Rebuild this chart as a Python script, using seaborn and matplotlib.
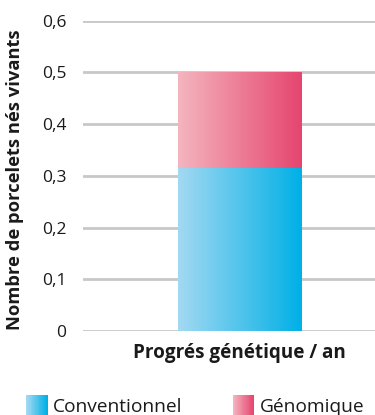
import numpy as np
import pandas as pd
import matplotlib
matplotlib.use("Agg")
import matplotlib.pyplot as plt
from matplotlib.colors import LinearSegmentedColormap
from matplotlib.patches import Rectangle
from matplotlib.legend_handler import HandlerBase
import seaborn as sns

# Data
categories = ["Progrés génétique / an"]
conventionnel = [0.315]
genomique = [0.185]
series_names = ["Conventionnel", "Génomique"]
yticks = [0, 0.1, 0.2, 0.3, 0.4, 0.5, 0.6]

blue_grad = ["#a3d9f2", "#00b0e6"]
pink_grad = ["#f4b5bf", "#e6456f"]

sns.set_style("white")
plt.rcParams["font.family"] = ["Open Sans", "DejaVu Sans"]

fig = plt.figure(figsize=(3.75, 4.15), dpi=100)
ax = fig.add_axes([0.2213, 0.2024, 0.7787, 0.7476])

df = pd.DataFrame({"cat": categories, "conv": conventionnel,
                   "total": np.array(conventionnel) + np.array(genomique)})

# Stacked bar: total first, conventional on top of it
sns.barplot(data=df, x="cat", y="total", color=pink_grad[1], width=0.8,
            ax=ax, zorder=3)
sns.barplot(data=df, x="cat", y="conv", color=blue_grad[1], width=0.8,
            ax=ax, zorder=3)

# Horizontal gradients clipped to each bar
grad = np.linspace(0, 1, 256).reshape(1, -1)
patches = list(ax.patches)
for patch, cols in zip(patches, [pink_grad, blue_grad]):
    x0, y0 = patch.get_x(), patch.get_y()
    w, h = patch.get_width(), patch.get_height()
    if cols is blue_grad:
        y_lo, y_hi = 0, h
    else:
        y_lo, y_hi = conventionnel[0], h
    cmap = LinearSegmentedColormap.from_list("g", cols)
    im = ax.imshow(grad, extent=[x0, x0 + w, y_lo, y_hi], aspect="auto",
                   cmap=cmap, zorder=4, interpolation="bicubic")
    clip = Rectangle((x0, y_lo), w, y_hi - y_lo, transform=ax.transData)
    im.set_clip_path(clip)
    patch.set_visible(False)

ax.set_xlim(-1.018, 0.881)
ax.set_ylim(0, 0.6)
ax.set_yticks(yticks)
ax.set_yticklabels([f"{v:.1f}".replace(".", ",") if v else "0" for v in yticks],
                   fontsize=12.5, color="#1a1a1a")
ax.set_xticks([])
ax.tick_params(axis="y", length=0, pad=12)
ax.yaxis.grid(True, color="#c8c8c8", linewidth=2, zorder=0)
ax.set_axisbelow(True)
sns.despine(ax=ax, left=True, right=True, top=True, bottom=True)

ax.set_xlabel("")
ax.set_ylabel("Nombre de porcelets nés vivants", fontsize=13.2,
              fontweight="bold", color="#1a1a1a")
ax.yaxis.set_label_coords(-0.203, 0.487)
ax.text(0.0, -0.04, categories[0], transform=ax.get_xaxis_transform(),
        ha="center", va="top", fontsize=13.6, fontweight="bold",
        color="#1a1a1a")


class GradientHandler(HandlerBase):
    def __init__(self, cols):
        super().__init__()
        self.cols = cols

    def create_artists(self, legend, orig_handle, xdescent, ydescent,
                       width, height, fontsize, trans):
        cmap = LinearSegmentedColormap.from_list("h", self.cols)
        n = 24
        arts = []
        for i in range(n):
            r = Rectangle((-xdescent + width * i / n, -ydescent - 3),
                          width / n + 0.3, height + 6,
                          facecolor=cmap(i / (n - 1)), edgecolor="none",
                          transform=trans)
            arts.append(r)
        return arts


h1 = Rectangle((0, 0), 1, 1)
h2 = Rectangle((0, 0), 1, 1)
fig.legend([h1, h2], series_names,
           handler_map={h1: GradientHandler(blue_grad),
                        h2: GradientHandler(pink_grad)},
           loc="lower left", bbox_to_anchor=(0.024, -0.045), ncol=2,
           frameon=False, fontsize=13.8, handlelength=1.1, handletextpad=0.3,
           columnspacing=2.62, labelcolor="#1a1a1a")

fig.savefig("out.png", dpi=100)
